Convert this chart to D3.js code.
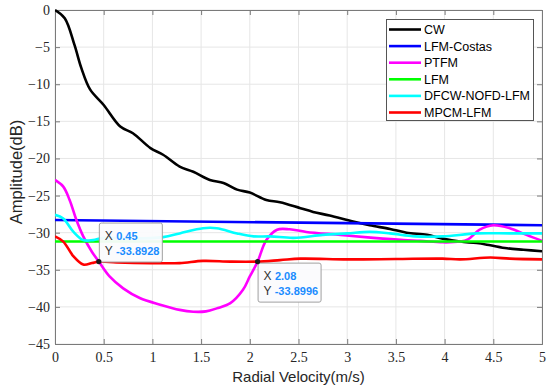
<!DOCTYPE html>
<html>
<head>
<meta charset="utf-8">
<script src="https://cdn.jsdelivr.net/npm/d3@7"></script>
<style>
  body { margin: 0; background: #fff; }
  svg { display: block; }
</style>
</head>
<body>
<div id="wrapper"></div>
<script>
// series names and colours
const seriesNames = ["CW", "LFM-Costas", "PTFM", "LFM", "DFCW-NOFD-LFM", "MPCM-LFM"];
const seriesColors = ["#000000", "#0000ff", "#ff00ff", "#00ff00", "#00ffff", "#ff0000"];

// values: [velocity, amplitude]
const cw = [[0,0],[0.1,-1.1],[0.2,-4.7],[0.27,-7.8],[0.36,-10.7],[0.5,-12.8],[0.67,-15.7],[0.8,-16.6],
  [0.98,-18.6],[1.11,-19.5],[1.28,-21.1],[1.42,-21.8],[1.59,-22.9],[1.73,-23.3],[1.87,-24.2],[2.0,-24.6],
  [2.17,-25.6],[2.31,-25.9],[2.52,-26.7],[2.65,-27.2],[2.82,-27.7],[3.06,-28.5],[3.23,-29.0],[3.44,-29.5],
  [3.61,-30.0],[3.82,-30.3],[3.98,-30.8],[4.16,-31.2],[4.33,-31.4],[4.47,-31.7],[4.64,-32.1],[4.81,-32.3],[5.0,-32.5]];
const lfmCostas = [[0,-28.3],[5,-29.0]];
const ptfm = [[0,-22.9],[0.085,-23.8],[0.15,-25.6],[0.22,-28.3],[0.29,-30.5],[0.38,-32.6],[0.45,-33.9],
  [0.56,-35.9],[0.7,-37.5],[0.87,-38.8],[1.08,-39.7],[1.28,-40.4],[1.42,-40.65],[1.55,-40.6],[1.66,-40.2],
  [1.8,-39.5],[1.93,-37.7],[2.0,-35.9],[2.08,-33.9],[2.17,-31.0],[2.28,-29.6],[2.41,-29.55],[2.58,-29.9],
  [2.93,-30.3],[3.27,-30.7],[3.58,-31.0],[3.75,-31.1],[3.98,-31.3],[4.16,-31.2],[4.24,-30.9],[4.36,-29.6],
  [4.5,-29.0],[4.67,-29.4],[4.84,-30.3],[5.0,-31.1]];
const lfm = [[0,-31.2],[5,-31.2]];
const dfcw = [[0,-27.6],[0.085,-28.1],[0.19,-29.9],[0.29,-31.0],[0.39,-31.0],[0.5,-30.7],[0.8,-30.8],
  [1.11,-30.6],[1.28,-30.1],[1.52,-29.4],[1.66,-29.4],[1.87,-30.1],[2.04,-30.5],[2.21,-30.5],[2.45,-30.7],
  [2.75,-30.3],[3.0,-30.1],[3.23,-29.9],[3.44,-30.1],[3.7,-30.5],[3.98,-30.5],[4.33,-30.1],[4.67,-30.1],[5.0,-30.1]];
const mpcm = [[0,-30.5],[0.085,-31.2],[0.19,-33.2],[0.29,-34.3],[0.38,-34.1],[0.45,-33.9],[0.63,-34.0],
  [0.98,-34.1],[1.28,-34.1],[1.52,-33.8],[1.8,-33.9],[2.07,-33.9],[2.31,-33.7],[2.52,-33.5],[3.0,-33.6],
  [3.5,-33.55],[3.98,-33.5],[4.16,-33.6],[4.47,-33.35],[4.67,-33.5],[5.0,-33.6]];
const allSeries = [cw, lfmCostas, ptfm, lfm, dfcw, mpcm];

const xTicks = [0, 0.5, 1, 1.5, 2, 2.5, 3, 3.5, 4, 4.5, 5];
const yTicks = [0, -5, -10, -15, -20, -25, -30, -35, -40, -45];

// data tips
const tips = [
  { x: 0.45, y: -33.8928, xText: "0.45", yText: "-33.8928", above: true },
  { x: 2.08, y: -33.8996, xText: "2.08", yText: "-33.8996", above: false }
];

let dimensions = {
  width: 550,
  height: 391,
  margin: { top: 10, left: 55, bottom: 47, right: 8 }
};
dimensions.boundedWidth = dimensions.width - dimensions.margin.left - dimensions.margin.right;
dimensions.boundedHeight = dimensions.height - dimensions.margin.top - dimensions.margin.bottom;

const wrapper = d3.select("#wrapper").append("svg")
  .attr("width", dimensions.width)
  .attr("height", dimensions.height);
const container = wrapper.append("g")
  .attr("transform", `translate(${dimensions.margin.left}, ${dimensions.margin.top})`);

const xScaler = d3.scaleLinear().domain([0, 5]).range([0, dimensions.boundedWidth]);
const yScaler = d3.scaleLinear().domain([-45, 0]).range([dimensions.boundedHeight, 0]);

const tickFont = "'Liberation Serif', 'DejaVu Serif', serif";
const sansFont = "'Liberation Sans', Arial, sans-serif";
const fmt = d => (d < 0 ? "\u2212" + Math.abs(d) : String(d));

// grid
container.append("g")
  .selectAll("line.vgrid").data(xTicks).enter().append("line")
  .attr("x1", d => xScaler(d)).attr("x2", d => xScaler(d))
  .attr("y1", 0).attr("y2", dimensions.boundedHeight)
  .attr("stroke", "#e6e6e6").attr("stroke-width", 1);
container.append("g")
  .selectAll("line.hgrid").data(yTicks).enter().append("line")
  .attr("y1", d => yScaler(d)).attr("y2", d => yScaler(d))
  .attr("x1", 0).attr("x2", dimensions.boundedWidth)
  .attr("stroke", "#e6e6e6").attr("stroke-width", 1);

// axes on all four sides (ticks inward)
const axisColor = "#7a7a7a";
function styleAxis(g) {
  g.select(".domain").attr("stroke", axisColor);
  g.selectAll(".tick line").attr("stroke", axisColor);
  g.selectAll(".tick text").attr("fill", "#262626")
    .style("font-family", tickFont).style("font-size", "14px");
}
const axisX = container.append("g")
  .attr("transform", `translate(0, ${dimensions.boundedHeight})`)
  .call(d3.axisBottom(xScaler).tickValues(xTicks).tickSize(-5).tickPadding(8).tickFormat(d => String(d)))
  .call(styleAxis);
const axisY = container.append("g")
  .call(d3.axisLeft(yScaler).tickValues(yTicks).tickSize(-5).tickPadding(5).tickFormat(fmt))
  .call(styleAxis);
container.append("g")
  .call(d3.axisTop(xScaler).tickValues(xTicks).tickSize(-5).tickFormat(""))
  .call(styleAxis);
container.append("g")
  .attr("transform", `translate(${dimensions.boundedWidth}, 0)`)
  .call(d3.axisRight(yScaler).tickValues(yTicks).tickSize(-5).tickFormat(""))
  .call(styleAxis);

// lines
const lineGen = d3.line()
  .x(d => xScaler(d[0]))
  .y(d => yScaler(d[1]))
  .curve(d3.curveCatmullRom.alpha(0.5));

wrapper.append("defs").append("clipPath").attr("id", "plotClip")
  .append("rect").attr("width", dimensions.boundedWidth).attr("height", dimensions.boundedHeight + 2).attr("y", -2);

const plot = container.append("g").attr("clip-path", "url(#plotClip)");
allSeries.forEach((s, i) => {
  plot.append("path")
    .datum(s)
    .attr("fill", "none")
    .attr("stroke", seriesColors[i])
    .attr("stroke-width", 2.6)
    .attr("stroke-linejoin", "round")
    .attr("d", lineGen);
});

// data tips
tips.forEach(t => {
  const px = xScaler(t.x), py = yScaler(t.y);
  const bw = 63, bh = 39;
  const bx = px, by = t.above ? py - bh : py + 1;
  const g = container.append("g");
  g.append("rect")
    .attr("x", bx + 0.5).attr("y", by + 0.5).attr("width", bw).attr("height", bh)
    .attr("rx", 2)
    .attr("fill", "#fbfbfd").attr("fill-opacity", 0.95)
    .attr("stroke", "#a0a0a0").attr("stroke-width", 1);
  [["X", t.xText, 14], ["Y", t.yText, 29]].forEach(r => {
    const txt = g.append("text")
      .attr("x", bx + 6).attr("y", by + r[2] + 3)
      .style("font-family", sansFont).style("font-size", "12px");
    txt.append("tspan").attr("fill", "#333").text(r[0] + " ");
    txt.append("tspan").attr("fill", "#1a8cff").style("font-weight", "bold").style("font-size", "11px").text(r[1]);
  });
  container.append("circle")
    .attr("cx", px).attr("cy", py).attr("r", 2.6)
    .attr("fill", "#1a1a1a");
});

// legend
const legend = wrapper.append("g").attr("transform", "translate(386, 19)");
legend.append("rect")
  .attr("x", 0.5).attr("y", 0.5).attr("width", 147).attr("height", 101)
  .attr("fill", "#fff").attr("stroke", "#555").attr("stroke-width", 1);
seriesNames.forEach((name, i) => {
  const yy = 10.5 + i * 16.6;
  legend.append("line")
    .attr("x1", 3).attr("x2", 35).attr("y1", yy).attr("y2", yy)
    .attr("stroke", seriesColors[i]).attr("stroke-width", 2.6);
  legend.append("text")
    .attr("x", 38).attr("y", yy + 4.5)
    .style("font-family", sansFont).style("font-size", "12.5px")
    .attr("fill", "#000")
    .text(name);
});

// axis labels
wrapper.append("text")
  .attr("x", dimensions.margin.left + dimensions.boundedWidth / 2)
  .attr("y", 382)
  .attr("text-anchor", "middle")
  .style("font-family", sansFont).style("font-size", "15px")
  .attr("fill", "#262626")
  .text("Radial Velocity(m/s)");
wrapper.append("text")
  .attr("transform", "translate(22, 172) rotate(-90)")
  .attr("text-anchor", "middle")
  .style("font-family", sansFont).style("font-size", "16.5px")
  .attr("fill", "#262626")
  .text("Amplitude(dB)");
</script>
</body>
</html>
